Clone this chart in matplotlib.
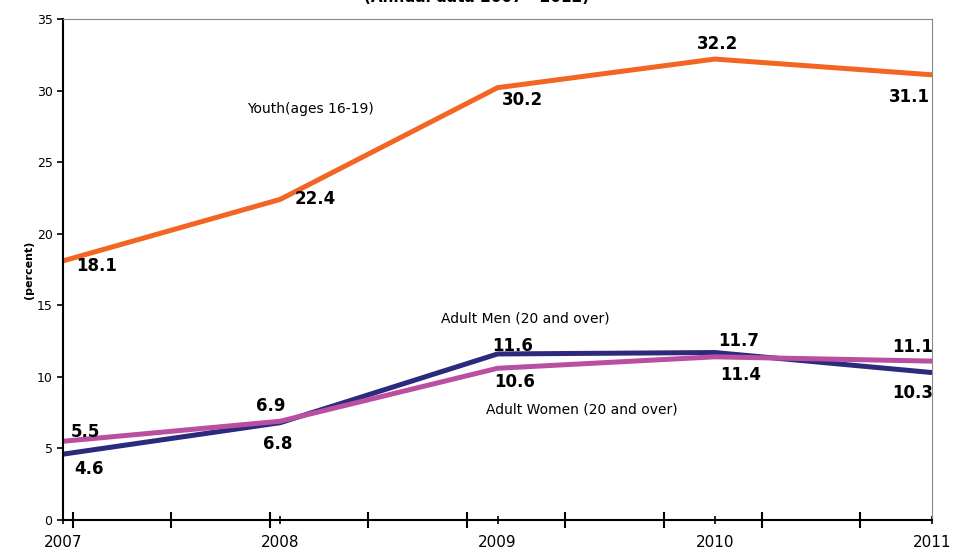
import numpy as np
import matplotlib
matplotlib.use("Agg")
import matplotlib.pyplot as plt

years = [2007, 2008, 2009, 2010, 2011]
youth = [18.1, 22.4, 30.2, 32.2, 31.1]
men = [4.6, 6.8, 11.6, 11.7, 10.3]
women = [5.5, 6.9, 10.6, 11.4, 11.1]

# label offsets (points) for each data label
youth_off = [(24, -4), (25, 0), (18, -9), (2, 11), (-16, -16)]
men_off = [(19, -11), (-2, -15), (11, 6), (17, 8), (-14, -15)]
women_off = [(16, 7), (-7, 11), (12, -10), (19, -13), (-14, 10)]

fig = plt.figure(figsize=(9.54, 5.5), dpi=100)
ax = fig.add_axes([0.066, 0.0545, 0.911, 0.911])

ax.plot(years, youth, color="#F26522", lw=3.6, solid_capstyle="butt")
ax.plot(years, men, color="#2B2A7C", lw=3.6, solid_capstyle="butt")
ax.plot(years, women, color="#BA4FA2", lw=3.6, solid_capstyle="butt")

for vals, offs in [(youth, youth_off), (men, men_off), (women, women_off)]:
    for x, y, o in zip(years, vals, offs):
        ax.annotate(f"{y:.1f}", (x, y), xytext=o, textcoords="offset points",
                    ha="center", va="center", fontsize=12, fontweight="bold")

ax.text(2008.14, 28.7, "Youth(ages 16-19)", ha="center", va="center", fontsize=10)
ax.text(2009.13, 14.1, "Adult Men (20 and over)", ha="center", va="center", fontsize=10)
ax.text(2009.39, 7.75, "Adult Women (20 and over)", ha="center", va="center", fontsize=10)

ax.set_xlim(2007, 2011)
ax.set_ylim(0, 35)
ax.set_yticks(range(0, 36, 5))
ax.set_xticks(years)
ax.set_xticklabels([str(y) for y in years], fontsize=11)
ax.set_xticks(np.arange(2007.046, 2011, 0.453)[:9], minor=True)
ax.tick_params(axis="y", direction="out", length=4, width=1.2, labelsize=9)
ax.tick_params(axis="x", which="major", direction="inout", length=6, width=1.2, pad=8)
ax.tick_params(axis="x", which="minor", direction="inout", length=12, width=1.5)

for s in ["left", "bottom"]:
    ax.spines[s].set_linewidth(1.5)
for s in ["top", "right"]:
    ax.spines[s].set_color("#888888")

fig.text(0.03, 0.51, "(percent)", rotation=90, ha="center", va="center",
         fontsize=8, fontweight="bold")
fig.text(0.5, 0.997, "(Annual data 2007 - 2012)", ha="center", va="baseline",
         fontsize=11, fontweight="bold")

fig.savefig("out.png", dpi=100)
